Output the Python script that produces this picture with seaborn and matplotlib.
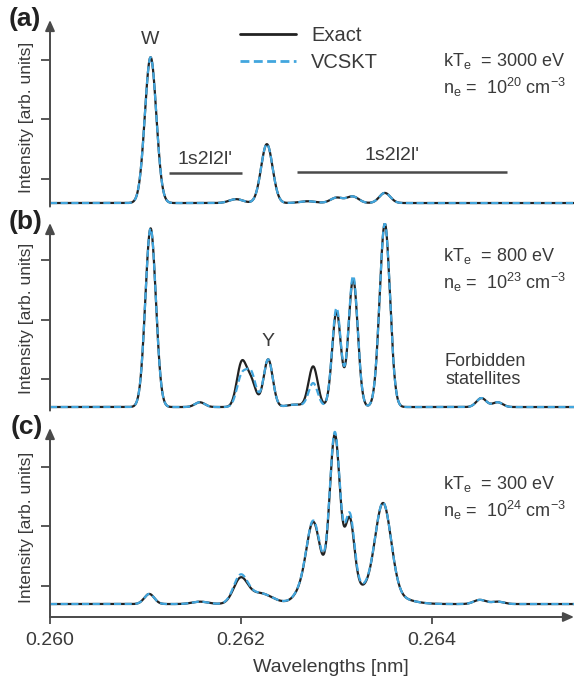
import numpy as np
import pandas as pd
import matplotlib
matplotlib.use("Agg")
import matplotlib.pyplot as plt
import seaborn as sns

# ---------------- data (wavelength in nm, intensity in arb. units) ----------------
# panel (a): kTe = 3000 eV, ne = 1e20 cm^-3
a_centers = [0.261054, 0.26195, 0.262272, 0.26270, 0.263002, 0.263170, 0.263508]
a_exact   = [2.45, 0.065, 0.99, 0.03, 0.09, 0.11, 0.17]
a_vcskt   = [2.45, 0.065, 0.99, 0.03, 0.09, 0.11, 0.17]
a_widths  = [0.000060, 0.000073, 0.000060, 0.000084, 0.000063, 0.000063, 0.000058]

# panel (b): kTe = 800 eV, ne = 1e23 cm^-3
b_centers = [0.261054, 0.26157, 0.262007, 0.262107, 0.262286, 0.262565, 0.262757,
             0.263002, 0.263176, 0.263508, 0.26452, 0.26469]
b_exact   = [3.0, 0.08, 0.72, 0.42, 0.80, 0.04, 0.68, 1.60, 2.15, 3.08, 0.15, 0.08]
b_vcskt   = [3.0, 0.08, 0.50, 0.55, 0.80, 0.04, 0.40, 1.66, 2.20, 3.08, 0.15, 0.08]
b_widths  = [0.000055, 0.000052, 0.000050, 0.000050, 0.000048, 0.000084, 0.000048,
             0.000046, 0.000048, 0.000054, 0.000052, 0.000052]

# panel (c): kTe = 300 eV, ne = 1e24 cm^-3
c_centers = [0.261040, 0.261571, 0.261995, 0.262199, 0.262639, 0.262757, 0.262984,
             0.263141, 0.263490, 0.263016, 0.263560, 0.264503, 0.264691]
c_exact   = [0.17, 0.04, 0.40, 0.18, 0.15, 1.13, 2.45, 1.08, 1.54, 0.40, 0.12, 0.07, 0.04]
c_vcskt   = [0.17, 0.04, 0.45, 0.18, 0.15, 1.13, 2.45, 1.12, 1.54, 0.44, 0.12, 0.07, 0.04]
c_widths  = [0.0000524, 0.0000838, 0.0000733, 0.000126, 0.0000733, 0.0000681, 0.0000524,
             0.0000471, 0.0000838, 0.000230, 0.000188, 0.000063, 0.000063]

models = ["Exact", "VCSKT"]
x_ticks = [0.260, 0.262, 0.264]
x_ticklabels = ["0.260", "0.262", "0.264"]

panels = {
    "a": (a_centers, a_exact, a_vcskt, a_widths),
    "b": (b_centers, b_exact, b_vcskt, b_widths),
    "c": (c_centers, c_exact, c_vcskt, c_widths),
}

wl = np.linspace(0.260, 0.26549, 2500)


def spectrum(centers, heights, widths):
    y = np.zeros_like(wl)
    for c, h, w in zip(centers, heights, widths):
        y += h * np.exp(-0.5 * ((wl - c) / w) ** 2)
    return y


frames = []
for key, (cen, ex, vc, wd) in panels.items():
    for name, hts in zip(models, (ex, vc)):
        frames.append(pd.DataFrame({"Wavelength": wl,
                                    "Intensity": spectrum(cen, hts, wd),
                                    "Model": name, "Panel": key}))
df = pd.concat(frames, ignore_index=True)

# ---------------- style ----------------
sns.set_theme(style="white")
plt.rcParams["font.family"] = ["Liberation Sans", "DejaVu Sans"]
plt.rcParams["mathtext.fontset"] = "custom"
plt.rcParams["mathtext.rm"] = "Liberation Sans"
plt.rcParams["mathtext.it"] = "Liberation Sans:italic"
TXT = "#3a3a3a"
AX = "#4a4a4a"
palette = {"Exact": "#222222", "VCSKT": "#42a6de"}
dashes = {"Exact": "", "VCSKT": (3.2, 1.6)}

W, H = 575, 683
fig = plt.figure(figsize=(W / 100, H / 100), dpi=100)


def fx(x):
    return x / W


def fy(y):
    return 1 - y / H


# axes geometry in pixels: (top, bottom) and y-limits
geom = {
    "a": (20, 206.6, -0.06, 3.076, [0.40, 1.41, 2.40]),
    "b": (223, 410.6, -0.06, 3.09, [0.47, 1.46, 2.47]),
    "c": (428, 617, -0.218, 2.96, [0.31, 1.31, 2.31]),
}
left_px, right_px = 50, 574
axes = {}
for key, (top, bot, ymin, ymax, yt) in geom.items():
    ax = fig.add_axes([fx(left_px), fy(bot), fx(right_px - left_px), (bot - top) / H])
    axes[key] = ax
    sub = df[df["Panel"] == key]
    sns.lineplot(data=sub, x="Wavelength", y="Intensity", hue="Model", style="Model",
                 hue_order=models, style_order=models, palette=palette, dashes=dashes,
                 linewidth=1.6, estimator=None, sort=False, ax=ax, legend=(key == "a"))
    ax.set_xlim(0.260, 0.26549)
    ax.set_ylim(ymin, ymax)
    for s in ax.spines.values():
        s.set_visible(False)
    ax.set_yticks(yt)
    ax.tick_params(axis="y", direction="out", length=6.5, width=1.3, color=AX,
                   labelleft=False, left=True)
    ax.set_xlabel("")
    ax.set_ylabel("")
    ax.patch.set_alpha(0)
    ax.annotate("", xy=(0, 1), xycoords="axes fraction", xytext=(0, 0),
                arrowprops=dict(arrowstyle="-|>,head_length=0.45,head_width=0.2",
                                color=AX, lw=1.4, shrinkA=0, shrinkB=0,
                                mutation_scale=14))
    if key == "c":
        ax.set_xticks(x_ticks)
        ax.set_xticklabels(x_ticklabels)
        ax.tick_params(axis="x", direction="out", length=5, width=1.3, color=AX,
                       labelsize=14, labelcolor=TXT, pad=6, bottom=True)
        ax.annotate("", xy=(1, 0), xycoords="axes fraction", xytext=(0, 0),
                    arrowprops=dict(arrowstyle="-|>,head_length=0.45,head_width=0.2",
                                    color=AX, lw=1.4, shrinkA=0, shrinkB=0,
                                    mutation_scale=14))
    else:
        ax.set_xticks([])

# legend in panel (a)
ax_a = axes["a"]
handles, labels = ax_a.get_legend_handles_labels()
keep = [(h, l) for h, l in zip(handles, labels) if l in models]
for h, _ in keep:
    h.set_linewidth(2.0)
ax_a.legend([h for h, _ in keep], [l for _, l in keep], loc="upper left",
            bbox_to_anchor=(fx(240), fy(26)), bbox_transform=fig.transFigure,
            frameon=False, fontsize=14.5, handlelength=2.8, handletextpad=0.72,
            labelspacing=0.42, borderpad=0, borderaxespad=0, labelcolor=TXT)

# 1s2l2l' band markers in panel (a)
band_spans = [(0.261246, 0.262007, 0.50), (0.262586, 0.264785, 0.52)]
for x0, x1, yy in band_spans:
    ax_a.plot([x0, x1], [yy, yy], color=AX, lw=1.8, solid_capstyle="butt")

# texts (pixel positions)
def ftext(x, y, s, **kw):
    kw.setdefault("color", TXT)
    kw.setdefault("fontsize", 13)
    fig.text(fx(x), fy(y), s, **kw)

ftext(205, 160, "1s2l2l'", ha="center", va="center", fontsize=14)
ftext(392, 156, "1s2l2l'", ha="center", va="center", fontsize=14)
ftext(150, 40, "W", ha="center", va="center", fontsize=14)
ftext(268, 342, "Y", ha="center", va="center", fontsize=14)

ftext(443, 61, r"kT$_{\rm e}$  = 3000 eV", ha="left", va="center")
ftext(443, 87, r"n$_{\rm e}$ =  10$^{20}$ cm$^{-3}$", ha="left", va="center")
ftext(443, 256, r"kT$_{\rm e}$  = 800 eV", ha="left", va="center")
ftext(443, 282, r"n$_{\rm e}$ =  10$^{23}$ cm$^{-3}$", ha="left", va="center")
ftext(445, 361, "Forbidden", ha="left", va="center")
ftext(445, 379, "statellites", ha="left", va="center")
ftext(443, 484, r"kT$_{\rm e}$  = 300 eV", ha="left", va="center")
ftext(443, 510, r"n$_{\rm e}$ =  10$^{24}$ cm$^{-3}$", ha="left", va="center")

for lab, (x, y) in {"(a)": (25, 19), "(b)": (26, 222), "(c)": (27, 427)}.items():
    ftext(x, y, lab, ha="center", va="center", fontsize=19, fontweight="bold",
          color="#222222")

for y in (117, 318, 527):
    ftext(26, y, "Intensity [arb. units]", ha="center", va="center", rotation=90,
          fontsize=12.5)

ftext(331, 668, "Wavelengths [nm]", ha="center", va="center", fontsize=14)

fig.savefig("out.png", dpi=100)
